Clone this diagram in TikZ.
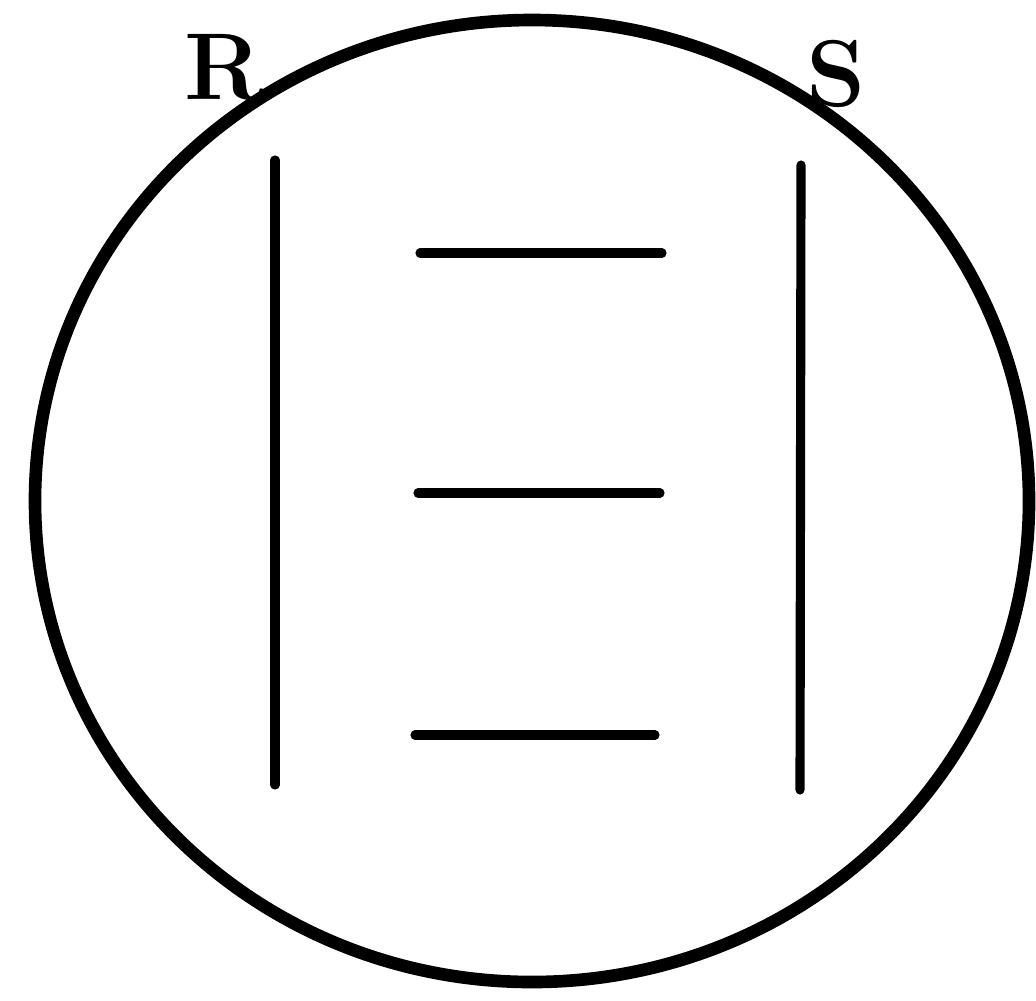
\documentclass[tikz,border=0pt]{standalone}
\usepackage{tikz}

\begin{document}
\begin{tikzpicture}[x=.1mm,y=-.1mm,line cap=round,
    bar/.style={line width=2.6pt},
    letter/.style={font=\fontsize{27}{30}\selectfont\bfseries}]
  \useasboundingbox (0,0) rectangle (1036,1000);
  \draw[line width=3.6pt] (532,501) ellipse (497 and 481);
  \draw[bar] (275,160)--(275,785); \draw[bar] (801,165)--(800,790);
  \draw[bar] (420,253)--(662,253);
  \draw[bar] (418,493)--(660,493);
  \draw[bar] (415,735)--(655,735);
  \node[letter] (labelR) at (224,68) {R};
  \node[letter] (labelS) at (836,74) {S};
\end{tikzpicture}
\end{document}
